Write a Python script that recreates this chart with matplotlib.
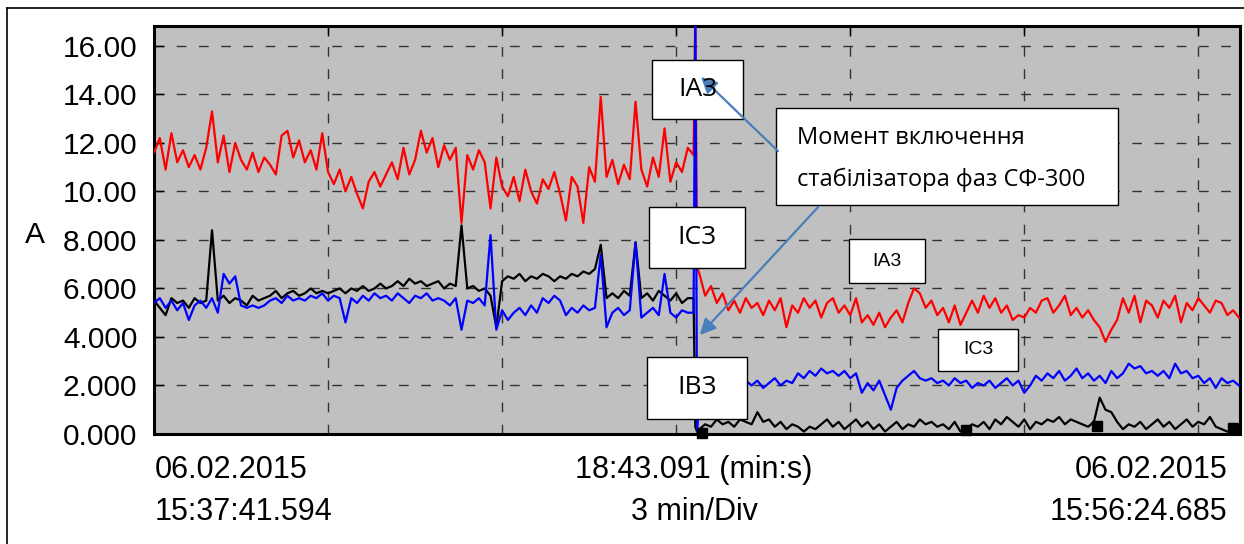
import numpy as np
import matplotlib
matplotlib.use("Agg")
import matplotlib.pyplot as plt
from matplotlib.patches import Rectangle

# time axis, minutes from 15:37:41.594
t_pre = np.round(np.arange(0.0, 9.25, 0.1), 2)      # 0.0 .. 9.2
t_sw = [9.30, 9.33, 9.36]                            # switching moment
t_post = np.round(np.arange(9.4, 18.75, 0.1), 2)     # 9.4 .. 18.7

ia3_pre = [11.6, 12.2, 10.9, 12.4, 11.2, 11.7, 11.0, 11.5, 10.9, 11.8,
           13.3, 11.2, 12.3, 10.8, 12.0, 11.3, 10.9, 11.6, 10.8, 11.4,
           11.1, 10.7, 12.3, 12.5, 11.4, 12.1, 11.2, 11.7, 10.9, 12.4,
           10.8, 10.3, 10.9, 10.0, 10.6, 9.9, 9.3, 10.4, 10.8, 10.2,
           10.7, 11.2, 10.5, 11.8, 10.7, 11.3, 12.5, 11.6, 12.2, 11.0,
           11.9, 11.3, 11.8, 8.7, 11.5, 10.9, 11.7, 11.2, 9.3, 11.4,
           10.2, 9.8, 10.6, 9.6, 10.9, 10.0, 9.5, 10.5, 10.1, 10.8,
           9.9, 8.8, 10.6, 10.2, 8.7, 11.0, 10.4, 13.9, 10.6, 11.3,
           10.3, 11.1, 10.5, 13.7, 10.9, 10.2, 11.4, 10.6, 12.6, 10.4,
           11.2, 10.8, 11.8]
ib3_pre = [5.5, 5.2, 4.9, 5.6, 5.4, 5.5, 5.2, 5.6, 5.4, 5.5,
           8.4, 5.5, 5.7, 5.4, 5.6, 5.5, 5.3, 5.7, 5.5, 5.6,
           5.7, 5.9, 5.6, 5.8, 5.9, 5.7, 5.8, 6.0, 5.8, 5.9,
           5.8, 5.9, 6.0, 5.8, 6.0, 5.9, 6.1, 5.9, 6.0, 6.2,
           6.0, 6.1, 6.3, 6.1, 6.4, 6.2, 6.3, 6.1, 6.2, 6.3,
           6.0, 6.2, 6.1, 8.6, 6.0, 6.1, 5.9, 6.0, 5.7, 4.4,
           6.3, 6.5, 6.4, 6.6, 6.3, 6.5, 6.4, 6.6, 6.5, 6.3,
           6.5, 6.4, 6.6, 6.5, 6.7, 6.6, 6.8, 7.8, 5.6, 5.8,
           5.6, 5.9, 5.7, 7.9, 5.6, 5.8, 5.5, 5.9, 5.7, 5.5,
           5.8, 5.4, 5.6]
ic3_pre = [5.4, 5.6, 5.2, 5.5, 5.1, 5.4, 4.7, 5.3, 5.5, 5.2,
           5.6, 5.0, 6.6, 6.2, 6.5, 5.3, 5.2, 5.3, 5.2, 5.3,
           5.5, 5.6, 5.4, 5.7, 5.5, 5.6, 5.5, 5.7, 5.6, 5.8,
           5.5, 5.7, 5.6, 4.6, 5.6, 5.4, 5.7, 5.5, 5.8, 5.6,
           5.7, 5.5, 5.8, 5.6, 5.4, 5.7, 5.6, 5.8, 5.5, 5.6,
           5.5, 5.3, 5.6, 4.3, 5.5, 5.4, 5.6, 5.3, 8.2, 4.3,
           5.1, 4.7, 5.0, 5.2, 4.9, 5.3, 5.0, 5.6, 5.4, 5.7,
           5.5, 4.9, 5.2, 5.0, 5.3, 5.1, 5.2, 7.4, 4.4, 5.0,
           5.2, 4.9, 5.1, 7.9, 4.8, 5.0, 5.2, 4.9, 6.6, 5.0,
           4.8, 5.1, 5.0]

ia3_sw = [11.5, 17.5, 6.9]
ib3_sw = [5.6, 0.3, 0.1]
ic3_sw = [5.0, 17.5, 0.1]

ia3_post = [6.6, 5.7, 6.1, 5.4, 5.8, 5.1, 5.5, 5.0, 5.6, 5.2,
            5.4, 4.9, 5.5, 5.1, 5.6, 4.4, 5.3, 5.0, 5.6, 5.2,
            5.5, 4.8, 5.4, 5.6, 5.0, 5.3, 4.9, 5.6, 4.6, 4.9,
            4.5, 5.0, 4.4, 4.8, 5.1, 4.6, 5.4, 6.0, 5.8, 5.2,
            5.5, 4.9, 5.2, 4.6, 5.3, 4.5, 5.0, 5.5, 5.0, 5.7,
            5.2, 5.6, 5.0, 5.3, 4.7, 4.9, 4.8, 5.2, 5.0, 5.5,
            5.6, 5.0, 5.3, 5.7, 4.9, 5.2, 4.8, 5.1, 4.7, 4.4,
            3.8, 4.3, 4.7, 5.6, 5.0, 5.7, 4.6, 5.5, 5.3, 4.8,
            5.5, 5.2, 5.7, 4.6, 5.4, 5.1, 5.6, 5.3, 5.0, 5.5,
            5.4, 4.9, 5.1, 4.8]
ic3_post = [1.4, 1.9, 2.1, 1.8, 2.2, 2.0, 2.3, 1.9, 2.2, 2.0,
            2.2, 1.9, 2.1, 2.3, 2.0, 2.2, 2.1, 2.5, 2.3, 2.6,
            2.4, 2.7, 2.5, 2.6, 2.4, 2.6, 2.3, 2.5, 1.7, 2.1,
            1.8, 2.2, 1.6, 1.0, 1.9, 2.2, 2.4, 2.6, 2.3, 2.2,
            2.3, 2.1, 2.2, 2.0, 2.3, 2.1, 2.2, 1.9, 2.1, 2.0,
            2.2, 1.9, 2.1, 2.3, 2.0, 2.2, 1.7, 2.0, 2.4, 2.2,
            2.5, 2.3, 2.6, 2.2, 2.4, 2.7, 2.3, 2.5, 2.2, 2.4,
            2.1, 2.6, 2.3, 2.5, 2.9, 2.7, 2.8, 2.5, 2.6, 2.4,
            2.6, 2.3, 2.9, 2.5, 2.6, 2.3, 2.4, 2.1, 2.3, 1.9,
            2.3, 2.1, 2.2, 2.0]
ib3_post = [0.2, 0.4, 0.3, 0.6, 0.4, 0.5, 0.3, 0.6, 0.5, 0.4,
            0.9, 0.5, 0.6, 0.3, 0.5, 0.2, 0.4, 0.3, 0.1, 0.3,
            0.2, 0.4, 0.6, 0.3, 0.5, 0.2, 0.4, 0.6, 0.3, 0.5,
            0.2, 0.4, 0.1, 0.3, 0.5, 0.2, 0.4, 0.3, 0.6, 0.4,
            0.5, 0.3, 0.4, 0.2, 0.5, 0.1, 0.2, 0.4, 0.3, 0.5,
            0.2, 0.6, 0.4, 0.7, 0.5, 0.3, 0.6, 0.2, 0.5, 0.4,
            0.6, 0.5, 0.7, 0.4, 0.6, 0.5, 0.4, 0.3, 0.5, 1.5,
            1.0, 0.9, 0.5, 0.2, 0.4, 0.3, 0.5, 0.2, 0.4, 0.6,
            0.3, 0.5, 0.2, 0.4, 0.6, 0.3, 0.5, 0.4, 0.7, 0.3,
            0.2, 0.1, 0.1, 0.1]

# black blocks sitting on the zero line
mark_t = [9.45, 14.0, 16.25, 18.6]
mark_v = [0.05, 0.15, 0.35, 0.25]

y_ticks = [0, 2, 4, 6, 8, 10, 12, 14, 16]
y_labels = ["0.000", "2.000", "4.000", "6.000", "8.000",
            "10.00", "12.00", "14.00", "16.00"]
x_grid = [3, 6, 9, 12, 15, 18]
t_end = 18.718

t = np.concatenate([t_pre, t_sw, t_post])
ia3 = np.concatenate([ia3_pre, ia3_sw, ia3_post])
ib3 = np.concatenate([ib3_pre, ib3_sw, ib3_post])
ic3 = np.concatenate([ic3_pre, ic3_sw, ic3_post])

plt.rcParams["font.family"] = ["Liberation Sans", "DejaVu Sans"]

W, H = 1244, 544
fig = plt.figure(figsize=(W / 100, H / 100), dpi=100)


def fx(px):
    return px / W


def fy(py):
    return 1 - py / H


ax = fig.add_axes([fx(154), fy(434), fx(1240) - fx(154), fy(26) - fy(434)])
ax.set_facecolor("#C0C0C0")
ax.plot(t, ib3, color="black", lw=1.6, zorder=3)
ax.plot(t, ia3, color="#FF0000", lw=1.6, zorder=4)
ax.plot(t, ic3, color="#0000FF", lw=1.6, zorder=5)
ax.plot(mark_t, mark_v, "s", color="black", ms=7, zorder=6, clip_on=False)

ax.set_xlim(0, t_end)
ax.set_ylim(0, 16.82)
ax.set_yticks(y_ticks)
ax.set_yticklabels(y_labels)
ax.set_xticks(x_grid)
ax.set_xticklabels([])
ax.tick_params(axis="y", direction="in", length=7, width=1, labelsize=21.5, pad=12)
ax.tick_params(axis="x", direction="in", length=7, width=1, top=True, bottom=False)
ax.grid(True, color="#333333", lw=1, linestyle=(0, (7, 9)))
ax.set_axisbelow(True)
for s in ax.spines.values():
    s.set_linewidth(2.2)

fig.text(fx(35), fy(235), "A", fontsize=21.5, ha="center", va="center")
fig.text(fx(155), fy(470), "06.02.2015", fontsize=22, ha="left", va="center")
fig.text(fx(155), fy(512), "15:37:41.594", fontsize=22, ha="left", va="center")
fig.text(fx(694), fy(470), "18:43.091 (min:s)", fontsize=22, ha="center", va="center")
fig.text(fx(694), fy(512), "3 min/Div", fontsize=22, ha="center", va="center")
fig.text(fx(1227), fy(470), "06.02.2015", fontsize=22, ha="right", va="center")
fig.text(fx(1227), fy(512), "15:56:24.685", fontsize=22, ha="right", va="center")

# overlay in pixel coordinates for callouts
ov = fig.add_axes([0, 0, 1, 1], zorder=10)
ov.set_xlim(0, W)
ov.set_ylim(H, 0)
ov.axis("off")
ov.patch.set_alpha(0)

ov.plot([7, W], [8, 8], color="black", lw=1.2)
ov.plot([7, 7], [8, H], color="black", lw=1.2)

arrow_c = "#4A7EBB"
ov.annotate("", xy=(699, 75), xytext=(780, 153),
            arrowprops=dict(arrowstyle="-|>", color=arrow_c, lw=1.6, mutation_scale=24),
            zorder=12)
ov.annotate("", xy=(698, 337), xytext=(820, 205),
            arrowprops=dict(arrowstyle="-|>", color=arrow_c, lw=1.6, mutation_scale=24),
            zorder=12)

boxes = [
    (652, 60, 743, 119, "IA3", "Open Sans", 19),
    (649, 207, 745, 268, "IC3", "Open Sans", 19),
    (647, 357, 747, 419, "IB3", "Open Sans", 19),
    (849, 239, 925, 283, "IA3", "Liberation Sans", 14),
    (938, 329, 1018, 371, "IC3", "Liberation Sans", 14),
]
for x0, y0, x1, y1, label, fam, fs in boxes:
    ov.add_patch(Rectangle((x0, y0), x1 - x0, y1 - y0, facecolor="white",
                           edgecolor="black", lw=1, zorder=11))
    ov.text((x0 + x1) / 2, (y0 + y1) / 2, label, family=fam, fontsize=fs,
            ha="center", va="center", zorder=13)

ov.add_patch(Rectangle((776, 108), 1118 - 776, 205 - 108, facecolor="white",
                       edgecolor="black", lw=1, zorder=11))
ov.text(797, 138, "Момент включення", family="Open Sans", fontsize=17,
        ha="left", va="center", zorder=13)
ov.text(797, 180, "стабілізатора фаз СФ-300", family="Open Sans", fontsize=17,
        ha="left", va="center", zorder=13)

fig.savefig("out.png", dpi=100)
